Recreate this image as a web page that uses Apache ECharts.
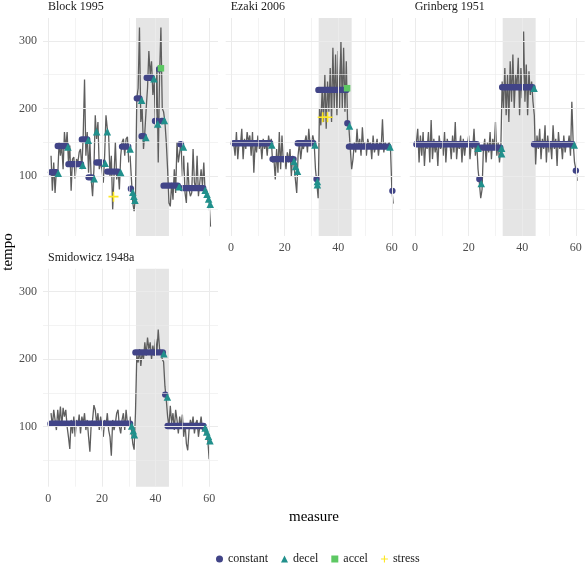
<!DOCTYPE html>
<html>
<head>
<meta charset="utf-8">
<script src="https://cdn.jsdelivr.net/npm/echarts@6/dist/echarts.min.js"></script>
<style>
html,body{margin:0;padding:0;background:#fff;}
#chart{width:585px;height:564px;}
</style>
</head>
<body>
<div id="chart"></div>
<script>
// ---------- DATA ----------
const panelTitles = ['Block 1995', 'Ezaki 2006', 'Grinberg 1951', 'Smidowicz 1948a'];
const measureTicks = [0, 20, 40, 60];
const tempoTicks = [100, 200, 300];
const sectionStart = 32.7;
const sectionEnd = 45;
const beatStep = 0.5; // tempo sampled every half measure

// tempo line values (first value at the given start measure, then every half measure)
const block_start = 1;
const block_tempo = [130,78,120,75,110,100,150,130,145,110,165,140,165,120,145,78,125,128,96,125,
  120,135,140,110,160,243,130,165,105,150,95,70,110,190,155,180,110,120,110,90,
  130,190,170,160,100,130,50,100,150,95,110,80,130,150,155,130,155,158,120,130,
  95,60,48,70,215,230,320,180,200,140,165,200,230,285,250,270,220,240,170,260,
  120,250,320,200,195,180,150,110,60,55,90,65,110,75,150,120,135,150,100,130,
  75,60,120,80,70,75,140,90,80,130,70,90,110,85,120,75,80,70,60,25];
const ezaki_start = 1;
const ezaki_tempo = [148,130,165,125,150,145,170,125,155,140,165,150,160,130,165,105,150,135,160,140,
  150,125,155,140,150,130,160,145,155,120,125,95,140,105,165,110,160,120,130,110,
  135,120,140,100,130,115,95,75,130,150,125,145,140,150,160,135,170,145,150,160,
  150,110,90,67,200,175,230,180,250,170,240,195,260,180,290,200,280,190,285,200,
  300,200,290,195,270,175,170,140,110,125,150,135,170,140,155,130,172,140,150,130,
  155,145,150,125,160,135,145,155,130,150,140,184,135,150,140,145,150,140,80,59];
const grinberg_start = 0.5;
const grinberg_tempo = [150,170,120,160,130,165,115,150,140,165,120,183,125,155,135,150,115,160,140,150,
  130,165,120,155,145,150,125,160,135,180,125,150,140,160,120,155,130,150,145,160,
  125,150,140,170,130,150,110,90,67,80,140,155,120,150,135,165,125,155,140,180,
  130,150,120,140,240,200,260,190,250,180,270,210,280,200,250,230,275,190,260,215,
  314,210,265,190,255,220,240,210,190,117,160,140,170,125,155,140,175,120,160,135,
  150,125,175,140,155,115,165,140,150,125,160,135,150,145,160,130,210,150,120,110,93];
const smidowicz_start = 1;
const smidowicz_tempo = [120,100,125,110,95,125,105,130,100,128,115,125,100,85,67,110,90,115,85,110,
  100,118,90,115,105,120,95,110,85,63,105,110,132,125,105,120,95,115,100,85,
  110,100,120,95,85,57,110,95,105,120,125,100,90,110,120,95,125,105,100,115,
  95,75,66,120,206,195,215,190,210,200,225,205,232,215,225,200,220,205,230,210,
  244,215,210,200,196,160,140,115,100,131,105,120,95,125,110,90,115,100,118,85,
  105,75,65,95,110,100,115,90,105,110,85,100,115,95,105,90,100,80,52];

// constant sections: [from measure, to measure, tempo]
const block_constant = [[1,2.8,105.5],[3.5,6.7,144.5],[7.5,12.2,117.5],[12.5,14.5,154],[15,16.2,98],[18,20,120],
  [22,26,106.5],[27.5,29.8,143.5],[30.8,30.8,81],[33,34,215],[34.8,35.6,159],[36.7,38.6,245.5],
  [39.8,40.6,181.5],[41.3,41.3,258],[42.3,42.6,181.5],[43,48.3,85.7],[49.3,49.5,147],[50.1,57.8,82]];
const ezaki_constant = [[1,14.6,148.5],[15.5,23.3,125],[24.9,30.7,148.5],[31.9,31.9,95.5],[32.6,43,227.5],
  [43.4,43.4,178],[44,58.7,143.5],[60.2,60.2,78]];
const grinberg_constant = [[0.5,23,147],[24,24,95.5],[24.5,31.8,142],[32.5,43.8,231.5],[44.4,58.7,147],[60,60,108]];
const smidowicz_constant = [[0.8,30.5,104.5],[32.5,42.7,210],[43.6,43.6,147.5],[44.5,57.9,101]];

// decel / accel / stress points: [measure, tempo]
const block_decel = [[3.7,104],[7.3,143],[12.8,116],[14.9,153],[17.1,96],[18,165.6],[21.2,119],[22,165.6],
  [27,105],[30.5,140],[31.5,76],[31.9,70],[32.3,64],[34.8,212],[36.4,157],[39.4,244],[40.8,177],
  [43.3,182],[48.8,84],[50.4,143],[58.5,79],[59.2,73],[59.8,66],[60.4,58]];
const ezaki_decel = [[15.2,146],[23.5,122],[24.1,114],[24.8,107],[31.3,146],[32.2,92],[32.2,87],[44.2,174],[59.3,143]];
const grinberg_decel = [[23.5,141],[24.7,89],[32.3,141],[32.3,133],[44.4,230],[59.4,146]];
const smidowicz_decel = [[31.1,101],[31.7,94],[32.1,88],[43.1,208],[44.4,144],[58.5,98],[59.1,92],[59.7,86],[60.3,79]];

const block_accel = [[42,259.5]];
const ezaki_accel = [[43.3,230]];
const grinberg_accel = [];
const smidowicz_accel = [];

const block_stress = [[24.3,69.4]];
const ezaki_stress = [[34.2,187],[36,187]];
const grinberg_stress = [];
const smidowicz_stress = [];

// ---------- STYLE / LAYOUT ----------
const C_CONST = '#414487', C_DECEL = '#21908C', C_ACCEL = '#5DC863', C_STRESS = '#FDE725';
const FONT = '"Liberation Serif", "DejaVu Serif", serif';
const PLUS = 'path://M4.2,0H5.8V4.2H10V5.8H5.8V10H4.2V5.8H0V4.2H4.2Z';
const DOT = 6.4;

const panels = [
  {start: block_start, tempo: block_tempo, constant: block_constant, decel: block_decel, accel: block_accel, stress: block_stress},
  {start: ezaki_start, tempo: ezaki_tempo, constant: ezaki_constant, decel: ezaki_decel, accel: ezaki_accel, stress: ezaki_stress},
  {start: grinberg_start, tempo: grinberg_tempo, constant: grinberg_constant, decel: grinberg_decel, accel: grinberg_accel, stress: grinberg_stress},
  {start: smidowicz_start, tempo: smidowicz_tempo, constant: smidowicz_constant, decel: smidowicz_decel, accel: smidowicz_accel, stress: smidowicz_stress}
];
const gridPos = [[43,18],[225.7,18],[409.7,18],[43,268.7]];
const GW = 175, GH = 218;
const XMIN = -2, XMAX = 63.3, YMIN = 11.1, YMAX = 334;
const xGrid = [0,10,20,30,40,50,60];
const yGrid = [50,100,150,200,250,300];

function renderConstant(params, api) {
  const a = api.coord([api.value(0), api.value(2)]);
  const b = api.coord([api.value(1), api.value(2)]);
  const h = DOT / 2;
  return {
    type: 'rect',
    shape: {x: a[0] - h, y: a[1] - h, width: (b[0] - a[0]) + DOT, height: DOT, r: h},
    style: {fill: C_CONST}
  };
}

const grid = [], xAxis = [], yAxis = [], series = [], graphic = [];
panels.forEach((p, i) => {
  grid.push({left: gridPos[i][0], top: gridPos[i][1], width: GW, height: GH});
  xAxis.push({
    gridIndex: i, type: 'value', min: XMIN, max: XMAX,
    axisLine: {show: false}, axisTick: {show: false}, splitLine: {show: false},
    axisLabel: {show: i !== 0, customValues: measureTicks, margin: 6, color: '#4d4d4d', fontFamily: FONT, fontSize: 12}
  });
  yAxis.push({
    gridIndex: i, type: 'value', min: YMIN, max: YMAX,
    axisLine: {show: false}, axisTick: {show: false}, splitLine: {show: false},
    axisLabel: {show: i === 0 || i === 3, customValues: tempoTicks, margin: 6, color: '#4d4d4d', fontFamily: FONT, fontSize: 12}
  });
  const gl = [];
  xGrid.forEach(v => gl.push({xAxis: v, lineStyle: {color: '#ebebeb', width: v % 20 === 0 ? 1 : 0.6, type: 'solid'}}));
  yGrid.forEach(v => gl.push({yAxis: v, lineStyle: {color: '#ebebeb', width: v % 100 === 0 ? 1 : 0.6, type: 'solid'}}));
  series.push({
    type: 'line', xAxisIndex: i, yAxisIndex: i, data: [], silent: true, z: 0,
    markLine: {silent: true, symbol: ['none','none'], label: {show: false}, animation: false, data: gl}
  });
  series.push({
    type: 'line', xAxisIndex: i, yAxisIndex: i, data: [], silent: true, z: 1,
    markArea: {silent: true, itemStyle: {color: '#e5e5e5'}, data: [[{xAxis: sectionStart}, {xAxis: sectionEnd}]]}
  });
  series.push({
    type: 'line', name: 'tempo', xAxisIndex: i, yAxisIndex: i, z: 2,
    data: p.tempo.map((t, k) => [p.start + k * beatStep, t]),
    showSymbol: false, lineStyle: {color: '#5e5e5e', width: 1.3}
  });
  series.push({
    type: 'custom', name: 'constant', xAxisIndex: i, yAxisIndex: i, z: 3,
    data: p.constant, encode: {x: [0, 1], y: 2},
    renderItem: renderConstant, itemStyle: {color: C_CONST}
  });
  series.push({type: 'scatter', name: 'decel', xAxisIndex: i, yAxisIndex: i, z: 5,
    data: p.decel, symbol: 'triangle', symbolSize: 7.5, itemStyle: {color: C_DECEL, opacity: 1}});
  series.push({type: 'scatter', name: 'accel', xAxisIndex: i, yAxisIndex: i, z: 6,
    data: p.accel, symbol: 'rect', symbolSize: 6.5, itemStyle: {color: C_ACCEL, opacity: 1}});
  series.push({type: 'scatter', name: 'stress', xAxisIndex: i, yAxisIndex: i, z: 7,
    data: p.stress, symbol: PLUS, symbolSize: 10, itemStyle: {color: C_STRESS, opacity: 1}});
  graphic.push({type: 'text', x: gridPos[i][0] + 5, y: gridPos[i][1] - 11,
    style: {text: panelTitles[i], font: '12px ' + FONT, fill: '#1a1a1a', align: 'left', verticalAlign: 'middle'}});
});

graphic.push({type: 'text', x: 8, y: 252, rotation: Math.PI / 2,
  style: {text: 'tempo', font: '15px ' + FONT, fill: '#000', align: 'center', verticalAlign: 'middle'}});
graphic.push({type: 'text', x: 314, y: 517,
  style: {text: 'measure', font: '15px ' + FONT, fill: '#000', align: 'center', verticalAlign: 'middle'}});

const chart = echarts.init(document.getElementById('chart'), null, {renderer: 'canvas'});
chart.setOption({
  animation: false,
  backgroundColor: '#ffffff',
  grid, xAxis, yAxis, series, graphic,
  legend: {
    left: 211, top: 548, itemWidth: 7, itemHeight: 7, itemGap: 13, selectedMode: false,
    textStyle: {fontFamily: FONT, fontSize: 12, color: '#1a1a1a'},
    data: [
      {name: 'constant', icon: 'circle', itemStyle: {color: C_CONST}},
      {name: 'decel', icon: 'triangle', itemStyle: {color: C_DECEL}},
      {name: 'accel', icon: 'rect', itemStyle: {color: C_ACCEL}},
      {name: 'stress', icon: PLUS, itemStyle: {color: C_STRESS}}
    ]
  }
});
</script>
</body>
</html>
